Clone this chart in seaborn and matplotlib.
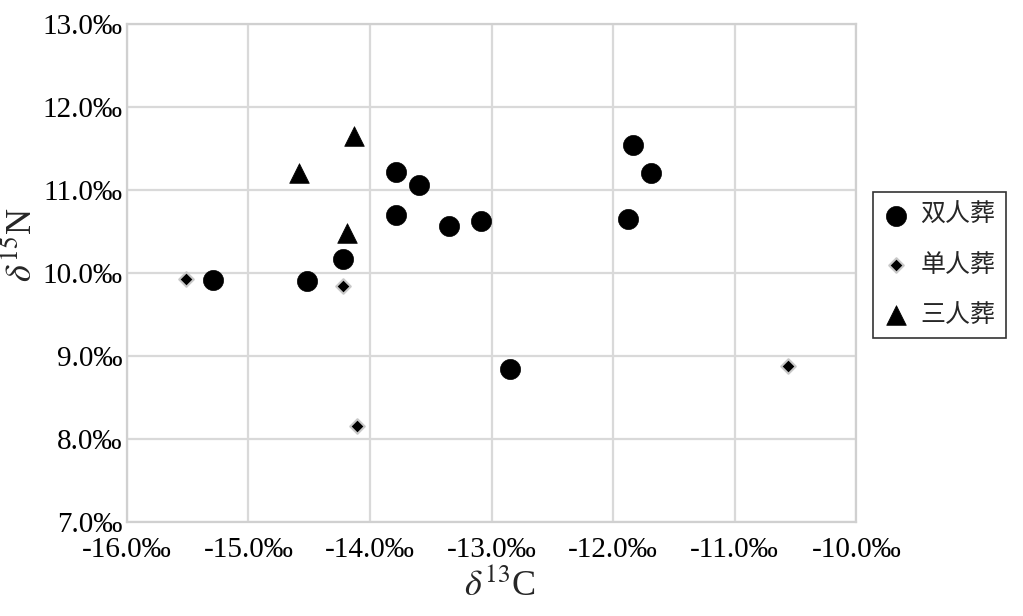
import matplotlib
matplotlib.use("Agg")
import matplotlib.pyplot as plt
import seaborn as sns
import pandas as pd
from matplotlib.ticker import FuncFormatter, MultipleLocator

# Data
double_c = [-15.29, -14.52, -14.22, -13.79, -13.60, -13.79, -13.35, -13.09, -12.85, -11.84, -11.69, -11.88]
double_n = [9.92, 9.90, 10.17, 11.22, 11.06, 10.70, 10.57, 10.63, 8.84, 11.54, 11.20, 10.65]
single_c = [-15.51, -14.22, -14.11, -10.56]
single_n = [9.93, 9.84, 8.16, 8.88]
triple_c = [-14.58, -14.13, -14.19]
triple_n = [11.20, 11.65, 10.48]
labels = ["双人葬", "单人葬", "三人葬"]

sns.set_theme(style="white")
plt.rcParams['font.family'] = ['Liberation Serif', 'Noto Sans CJK SC']
plt.rcParams['mathtext.fontset'] = 'stix'

fig = plt.figure(figsize=(10.23, 6.16), dpi=100)
ax = fig.add_axes([0.124, 0.153, 0.713, 0.808])

sns.scatterplot(x=double_c, y=double_n, ax=ax, marker='o', s=210, color='black',
                edgecolor='black', linewidth=0.5, label=labels[0], zorder=3)
sns.scatterplot(x=single_c, y=single_n, ax=ax, marker='D', s=55, color='black',
                edgecolor='#c8c8c8', linewidth=1.5, label=labels[1], zorder=3)
sns.scatterplot(x=triple_c, y=triple_n, ax=ax, marker='^', s=200, color='black',
                edgecolor='black', linewidth=0.5, label=labels[2], zorder=3)

ax.set_xlim(-16, -10)
ax.set_ylim(7, 13)
ax.xaxis.set_major_locator(MultipleLocator(1))
ax.yaxis.set_major_locator(MultipleLocator(1))
ax.xaxis.set_major_formatter(FuncFormatter(lambda v, p: f"{v:.1f}‰"))
ax.yaxis.set_major_formatter(FuncFormatter(lambda v, p: f"{v:.1f}‰"))
ax.grid(True, color='#d9d9d9', linewidth=1.6)
ax.set_axisbelow(True)
for s in ax.spines.values():
    s.set_color('#d0d0d0')
    s.set_linewidth(1.6)
ax.tick_params(axis='both', labelsize=21, length=0, colors='black')
ax.tick_params(axis='x', pad=11)
ax.tick_params(axis='y', pad=3)

ax.set_xlabel(r'$\delta^{13}$C', fontsize=26)
ax.set_ylabel(r'$\delta^{15}$N', fontsize=26)
ax.xaxis.set_label_coords(0.512, -0.092)
ax.yaxis.set_label_coords(-0.12, 0.556)

leg = ax.legend(loc='center left', bbox_to_anchor=(1.023, 0.516), frameon=True,
                prop={'family': ['Noto Sans CJK SC'], 'size': 18},
                handletextpad=0.5, borderpad=0.4, labelspacing=0.95,
                handlelength=1.0, fancybox=False, borderaxespad=0)
leg.get_frame().set_edgecolor('black')
leg.get_frame().set_linewidth(1.2)

fig.savefig("out.png", dpi=100)
